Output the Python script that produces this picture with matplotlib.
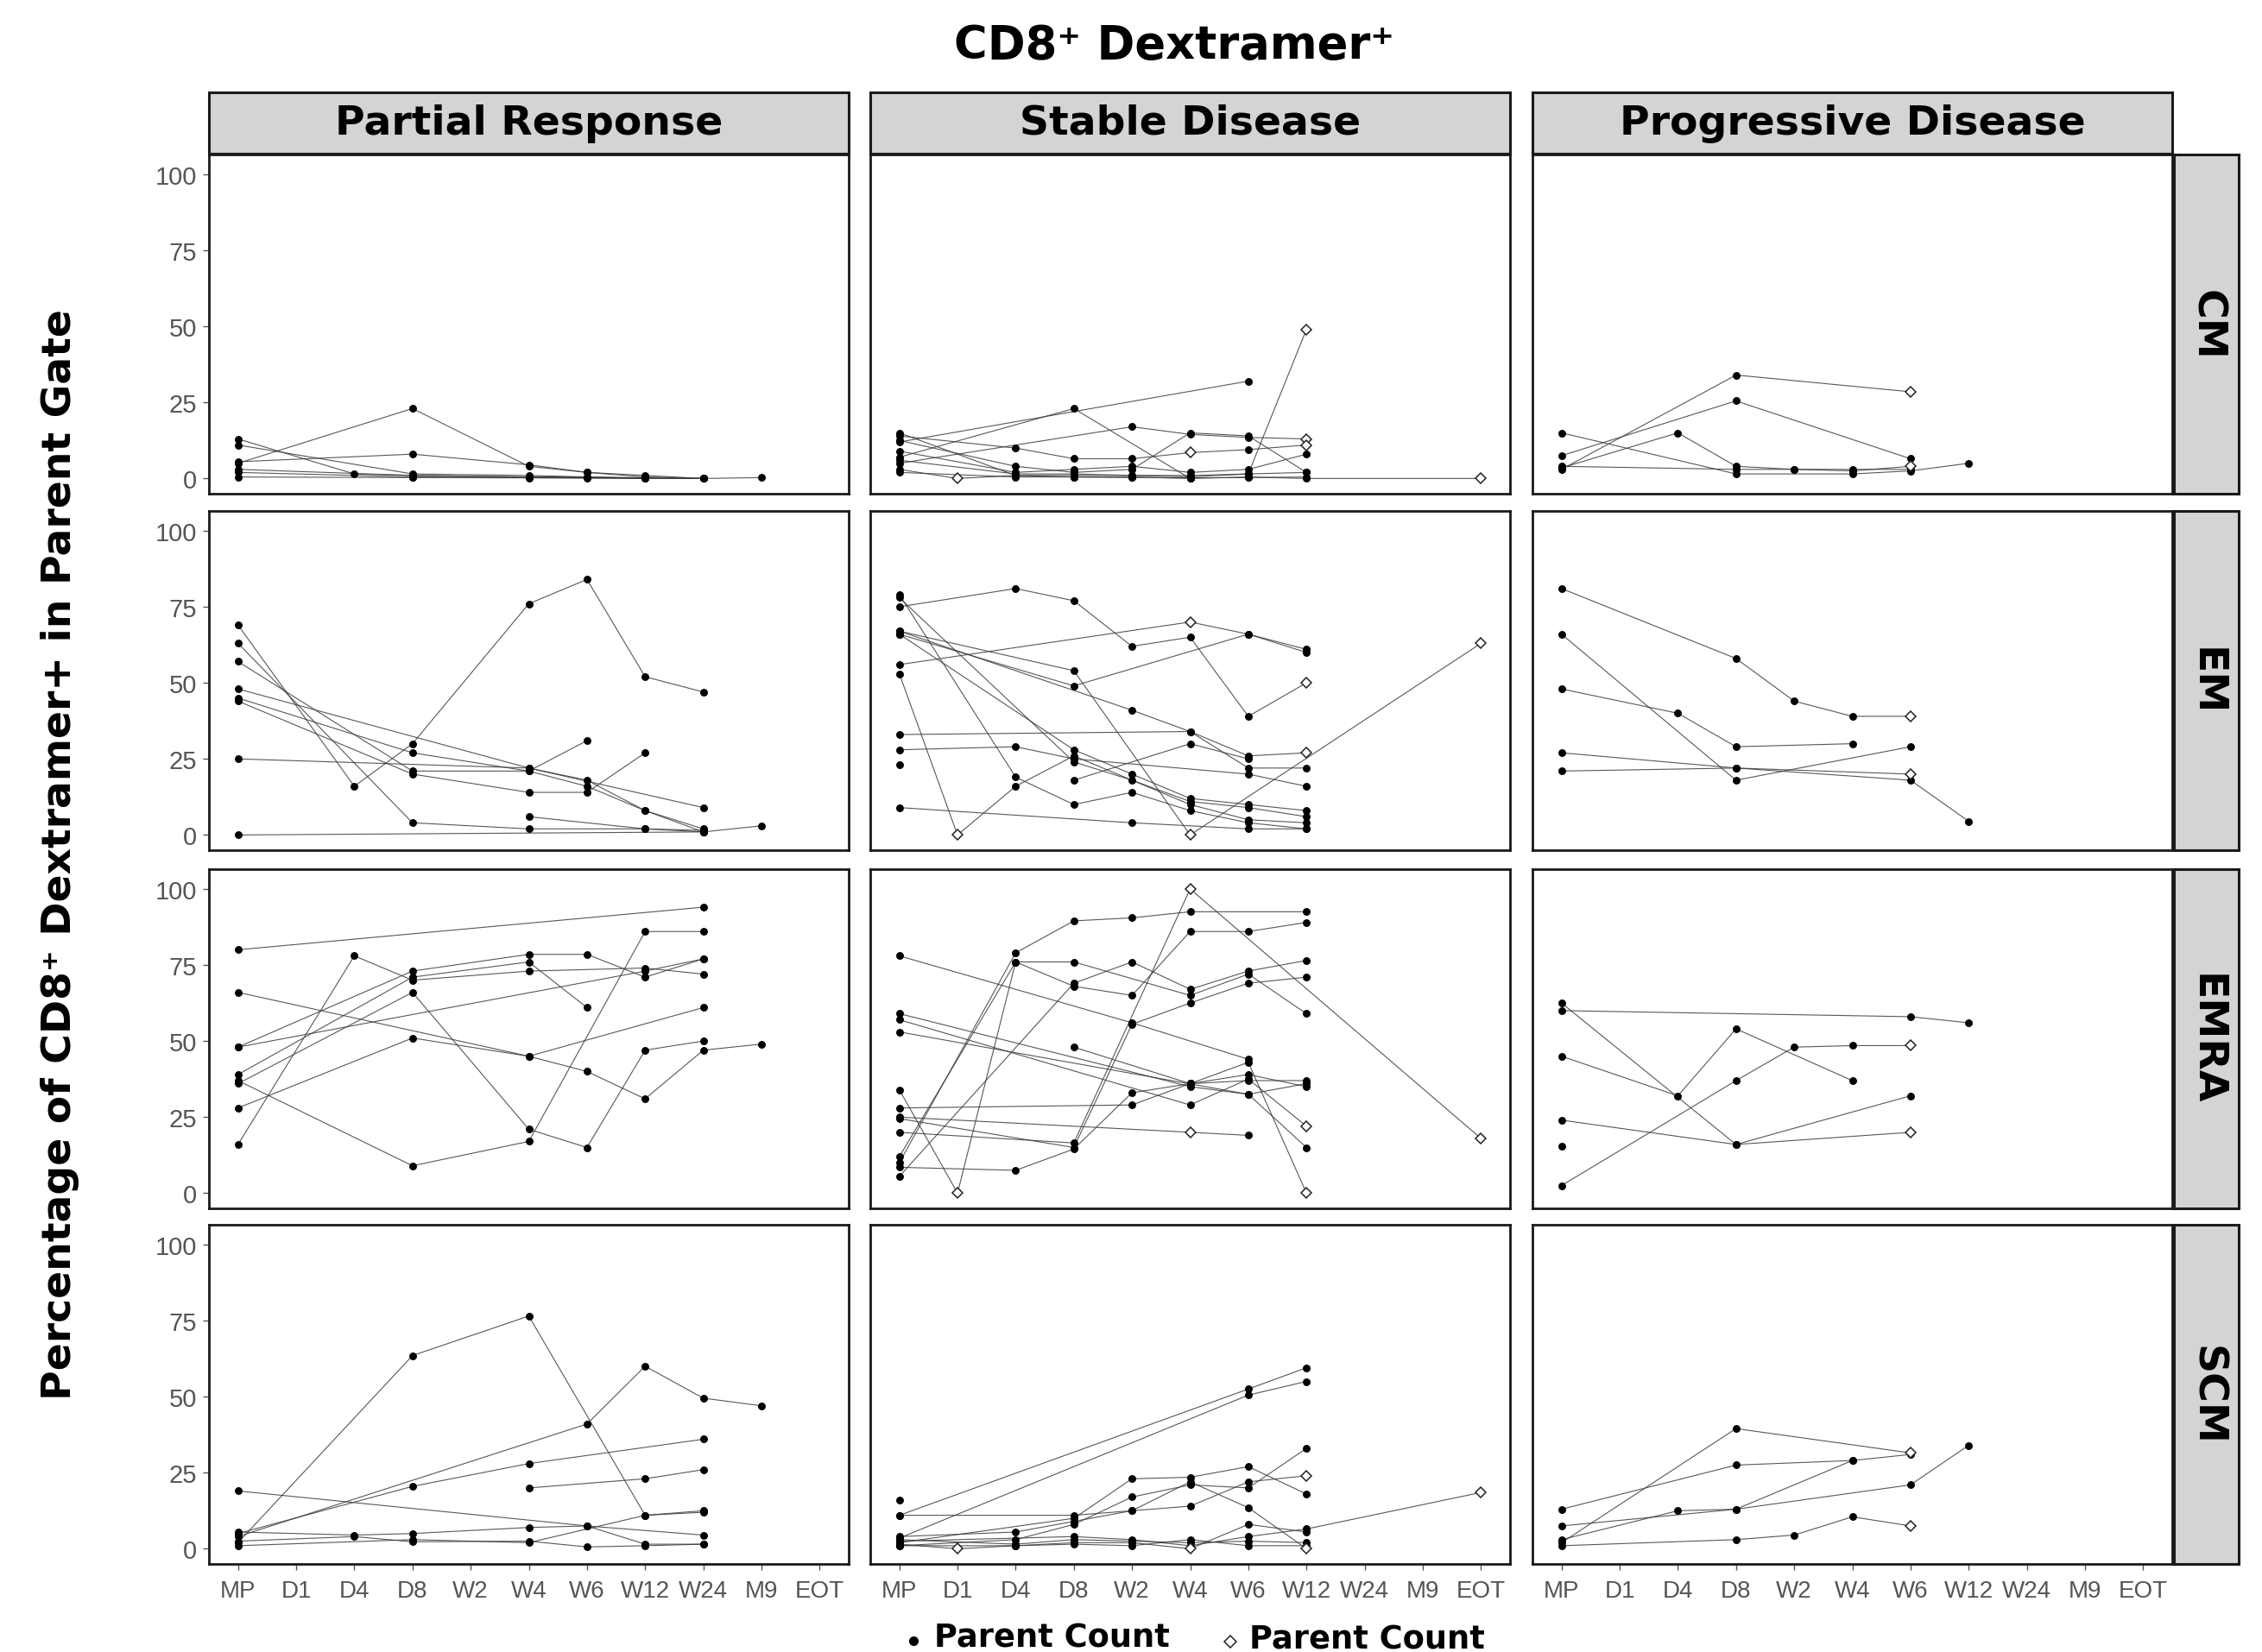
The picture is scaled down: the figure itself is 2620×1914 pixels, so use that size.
import matplotlib
matplotlib.use('Agg')
import matplotlib.pyplot as plt
from matplotlib.lines import Line2D
from matplotlib.patches import Rectangle

TIMEPOINTS = ["MP", "D1", "D4", "D8", "W2", "W4", "W6", "W12", "W24", "M9", "EOT"]
RESPONSES = ["Partial Response", "Stable Disease", "Progressive Disease"]
SUBSETS = ["CM", "EM", "EMRA", "SCM"]
Y_TICKS = [0, 25, 50, 75, 100]

# each series: list of (timepoint, percentage[, "d" = open diamond / low parent count])
PR_CM = [
    [("MP", 5), ("D8", 23), ("W4", 4), ("W6", 2), ("W12", 1), ("W24", 0)],
    [("MP", 13), ("D4", 1.5), ("D8", 1), ("W4", 0.5), ("W6", 0.5), ("W24", 0)],
    [("MP", 11), ("D8", 1.5), ("W4", 1), ("W6", 0.5), ("W12", 0)],
    [("MP", 5.5), ("D8", 8), ("W4", 4.5), ("W6", 2), ("W12", 0.5), ("W24", 0), ("M9", 0.3)],
    [("MP", 3), ("D8", 1), ("W4", 0.5), ("W6", 0.3), ("W12", 0.2)],
    [("MP", 2), ("D8", 0.5), ("W4", 0.3), ("W24", 0)],
    [("MP", 0.5), ("D8", 0.3), ("W4", 0.2), ("W6", 0.1), ("W12", 0), ("W24", 0)],
]
SD_CM = [
    [("MP", 12), ("W6", 32)],
    [("MP", 7), ("D8", 23), ("W4", 0)],
    [("MP", 5), ("W2", 17), ("W4", 14.5), ("W6", 13.5), ("W12", 13, "d")],
    [("MP", 14), ("D4", 10), ("D8", 6.5), ("W2", 6.5), ("W4", 8.5, "d"), ("W6", 9.5), ("W12", 11, "d")],
    [("MP", 3), ("D1", 0, "d"), ("D4", 1), ("D8", 1), ("W2", 1), ("W4", 0.5), ("W6", 1.5), ("W12", 49, "d")],
    [("MP", 15), ("D4", 1), ("D8", 0.5), ("W2", 0.5), ("W4", 0), ("W6", 0.5), ("W12", 0), ("EOT", 0, "d")],
    [("MP", 9), ("D4", 2), ("D8", 3), ("W2", 4), ("W4", 2), ("W6", 3), ("W12", 8)],
    [("MP", 12.5), ("D4", 4), ("D8", 2), ("W2", 3), ("W4", 15), ("W6", 14), ("W12", 2)],
    [("MP", 6), ("D4", 1.5), ("D8", 1.5), ("W2", 1), ("W4", 1), ("W6", 1.5), ("W12", 2)],
    [("MP", 2), ("D4", 0.5), ("D8", 0.5), ("W2", 0.3), ("W4", 0.2), ("W6", 0.3), ("W12", 0.5)],
]
PD_CM = [
    [("MP", 3), ("D8", 34), ("W6", 28.5, "d")],
    [("MP", 7.5), ("D8", 25.5), ("W6", 6.5)],
    [("MP", 3.5), ("D4", 15), ("D8", 4), ("W2", 3), ("W4", 2.5), ("W6", 4, "d")],
    [("MP", 15), ("D8", 1.5), ("W4", 1.5), ("W6", 2.5), ("W12", 5)],
    [("MP", 4), ("D8", 3), ("W2", 3), ("W4", 3), ("W6", 3)],
]
PR_EM = [
    [("MP", 69), ("D4", 16), ("D8", 30), ("W4", 76), ("W6", 84), ("W12", 52), ("W24", 47)],
    [("MP", 63), ("D8", 4), ("W4", 2), ("W12", 2), ("W24", 1)],
    [("MP", 57), ("D8", 21), ("W4", 21), ("W6", 16), ("W12", 8), ("W24", 2)],
    [("MP", 48), ("W4", 22), ("W24", 9)],
    [("MP", 45), ("D8", 27), ("W4", 21), ("W6", 31)],
    [("MP", 44), ("D8", 20), ("W4", 14), ("W6", 14), ("W12", 27)],
    [("MP", 25), ("W4", 22), ("W6", 18), ("W12", 8), ("W24", 1)],
    [("MP", 0), ("W24", 1), ("M9", 3)],
    [("W4", 6), ("W12", 2), ("W24", 1.5)],
]
SD_EM = [
    [("MP", 75), ("D4", 81), ("D8", 77), ("W2", 62), ("W4", 65), ("W6", 39), ("W12", 50, "d")],
    [("MP", 56), ("W4", 70, "d"), ("W6", 66), ("W12", 61)],
    [("MP", 67), ("D8", 54), ("W4", 0, "d"), ("EOT", 63, "d")],
    [("MP", 66), ("D8", 49), ("W6", 66), ("W12", 60)],
    [("MP", 67), ("W2", 41), ("W4", 34), ("W6", 26), ("W12", 27, "d")],
    [("MP", 66), ("D8", 28), ("W2", 20), ("W4", 12), ("W6", 10), ("W12", 8)],
    [("MP", 53), ("D1", 0, "d"), ("D4", 16), ("D8", 26), ("W4", 10), ("W6", 5), ("W12", 4)],
    [("MP", 79), ("D4", 19), ("D8", 10), ("W2", 14), ("W4", 8), ("W6", 4), ("W12", 2)],
    [("MP", 78), ("D8", 24), ("W2", 18), ("W4", 11), ("W6", 9), ("W12", 6)],
    [("MP", 33), ("W4", 34), ("W6", 22), ("W12", 22)],
    [("MP", 28), ("D4", 29), ("D8", 25), ("W6", 20), ("W12", 16)],
    [("MP", 23)],
    [("MP", 9), ("W2", 4), ("W6", 2), ("W12", 2)],
    [("D8", 18), ("W4", 30), ("W6", 25)],
]
PD_EM = [
    [("MP", 81), ("D8", 58), ("W2", 44), ("W4", 39), ("W6", 39, "d")],
    [("MP", 66), ("D8", 18), ("W6", 29)],
    [("MP", 48), ("D4", 40), ("D8", 29), ("W4", 30)],
    [("MP", 27), ("D8", 22), ("W6", 18), ("W12", 4.5)],
    [("MP", 21), ("D8", 22), ("W6", 20, "d")],
]
PR_EMRA = [
    [("MP", 80), ("W24", 94)],
    [("MP", 16), ("D4", 78), ("D8", 70), ("W4", 73), ("W12", 74), ("W24", 72)],
    [("MP", 48), ("D8", 73), ("W4", 78.5), ("W6", 78.5), ("W12", 71), ("W24", 77)],
    [("MP", 39), ("D8", 71), ("W4", 76), ("W6", 61)],
    [("MP", 48), ("W12", 73), ("W24", 77)],
    [("MP", 37), ("D8", 9), ("W4", 17), ("W12", 86), ("W24", 86)],
    [("MP", 36), ("D8", 66), ("W4", 21), ("W6", 15), ("W12", 47), ("W24", 50)],
    [("MP", 28), ("D8", 51), ("W4", 45), ("W24", 61)],
    [("MP", 66), ("W4", 45), ("W6", 40), ("W12", 31), ("W24", 47), ("M9", 49)],
]
SD_EMRA = [
    [("MP", 78), ("W2", 56), ("W6", 44)],
    [("MP", 10), ("D4", 79), ("D8", 89.5), ("W2", 90.5), ("W4", 92.5), ("W12", 92.5)],
    [("MP", 12), ("D4", 76), ("D8", 68), ("W2", 65), ("W4", 86), ("W6", 86), ("W12", 89)],
    [("MP", 34), ("D1", 0, "d"), ("D4", 76), ("D8", 76), ("W4", 65), ("W6", 72), ("W12", 59)],
    [("MP", 8.5), ("D4", 7.5), ("D8", 14.5), ("W2", 33), ("W4", 36), ("W6", 39), ("W12", 35)],
    [("MP", 25), ("W4", 20, "d"), ("W6", 19)],
    [("MP", 28), ("W2", 29), ("W4", 36), ("W6", 37), ("W12", 37)],
    [("MP", 20), ("D8", 16.5), ("W4", 100, "d"), ("EOT", 18, "d")],
    [("MP", 5.5), ("D8", 69), ("W2", 76), ("W4", 67), ("W6", 73), ("W12", 76.5)],
    [("MP", 59), ("W4", 35), ("W6", 32.5), ("W12", 36)],
    [("MP", 53), ("W6", 32.5), ("W12", 15)],
    [("MP", 57), ("W4", 29), ("W6", 37.5), ("W12", 22, "d")],
    [("D8", 48), ("W4", 36), ("W6", 43), ("W12", 0, "d")],
    [("MP", 24.5), ("D8", 15), ("W2", 55.5), ("W4", 62.5), ("W6", 69), ("W12", 71)],
]
PD_EMRA = [
    [("MP", 60), ("W6", 58), ("W12", 56)],
    [("MP", 62.5), ("D8", 16), ("W6", 32)],
    [("MP", 45), ("D4", 32), ("D8", 54), ("W4", 37)],
    [("MP", 24), ("D8", 16), ("W6", 20, "d")],
    [("MP", 15.5)],
    [("MP", 2.5), ("D8", 37), ("W2", 48), ("W4", 48.5), ("W6", 48.5, "d")],
]
PR_SCM = [
    [("MP", 2), ("D8", 63.5), ("W4", 76.5), ("W12", 11), ("W24", 12)],
    [("MP", 4), ("W6", 41), ("W12", 60), ("W24", 49.5), ("M9", 47)],
    [("MP", 5), ("D8", 20.5), ("W4", 28), ("W24", 36)],
    [("W4", 20), ("W12", 23), ("W24", 26)],
    [("MP", 19), ("W6", 7.5), ("W24", 4.5)],
    [("MP", 5.5), ("D4", 4.5), ("D8", 5), ("W4", 7), ("W6", 7.5), ("W12", 1.5), ("W24", 1.5)],
    [("MP", 2.5), ("D4", 4), ("D8", 2.3), ("W4", 2.5), ("W6", 0.6), ("W12", 1), ("W24", 1.5)],
    [("MP", 1), ("D8", 3), ("W4", 2), ("W12", 11), ("W24", 12.5)],
]
SD_SCM = [
    [("MP", 11), ("W6", 52.5), ("W12", 59.5)],
    [("MP", 3.5), ("W6", 50.5), ("W12", 55)],
    [("MP", 11), ("D8", 11), ("W2", 12.5), ("W4", 14), ("W6", 22), ("W12", 24, "d")],
    [("MP", 2), ("D8", 10), ("W2", 23), ("W4", 23.5), ("W6", 27), ("W12", 18)],
    [("MP", 1), ("D4", 3), ("D8", 8), ("W2", 17), ("W4", 21), ("W6", 20), ("W12", 33)],
    [("MP", 4), ("D4", 5.5), ("D8", 9), ("W2", 12.5), ("W4", 22), ("W6", 13.5), ("W12", 0, "d")],
    [("MP", 2.5), ("D8", 4), ("W2", 3), ("W4", 1), ("W6", 4), ("W12", 6.5), ("EOT", 18.5, "d")],
    [("MP", 16)],
    [("MP", 1.5), ("D1", 0, "d"), ("D4", 1), ("D8", 2), ("W2", 2), ("W4", 0, "d"), ("W6", 8), ("W12", 5.5)],
    [("MP", 3), ("D4", 1.5), ("D8", 3), ("W2", 2.5), ("W4", 2), ("W6", 2.5), ("W12", 2)],
    [("MP", 1), ("D4", 1), ("D8", 1.5), ("W2", 1), ("W4", 3), ("W6", 1), ("W12", 1)],
]
PD_SCM = [
    [("MP", 2), ("D8", 39.5), ("W6", 31.5, "d")],
    [("MP", 13), ("D8", 27.5), ("W4", 29), ("W6", 31)],
    [("MP", 3), ("D4", 12.5), ("D8", 13), ("W4", 29)],
    [("MP", 7.5), ("D8", 13), ("W6", 21), ("W12", 34)],
    [("MP", 1), ("D8", 3), ("W2", 4.5), ("W4", 10.5), ("W6", 7.5, "d")],
]

PANELS = [
    [PR_CM, SD_CM, PD_CM],
    [PR_EM, SD_EM, PD_EM],
    [PR_EMRA, SD_EMRA, PD_EMRA],
    [PR_SCM, SD_SCM, PD_SCM],
]

W, H = 2620, 1915
fig = plt.figure(figsize=(W / 100, H / 100), dpi=100)

col_left = [242, 1008, 1775]
col_w = 741
row_top = [180, 593, 1008, 1420]
row_h = 393
strip_top_y0, strip_top_y1 = 108, 179
strip_right_x0, strip_right_x1 = 2518, 2593

FRAME = '#1a1a1a'
STRIP_FILL = '#d4d4d4'
TICK_GREY = '#555555'
LINE_COL = '#3a3a3a'

idx = {t: i for i, t in enumerate(TIMEPOINTS)}

for r in range(4):
    for c in range(3):
        ax = fig.add_axes([col_left[c] / W, 1 - (row_top[r] + row_h) / H, col_w / W, row_h / H])
        ax.set_xlim(-0.5, len(TIMEPOINTS) - 0.5)
        ax.set_ylim(-5, 106.5)
        for s in PANELS[r][c]:
            xs = [idx[p[0]] for p in s]
            ys = [p[1] for p in s]
            ax.plot(xs, ys, color=LINE_COL, lw=0.8, alpha=0.85, zorder=2)
            fx = [idx[p[0]] for p in s if len(p) == 2]
            fy = [p[1] for p in s if len(p) == 2]
            ax.plot(fx, fy, ls='none', marker='o', ms=5.4, color='black', zorder=3)
            dx = [idx[p[0]] for p in s if len(p) == 3]
            dy = [p[1] for p in s if len(p) == 3]
            ax.plot(dx, dy, ls='none', marker='D', ms=6.5, mfc='white', mec='#222222',
                    mew=1.1, zorder=4)
        ax.set_xticks(range(len(TIMEPOINTS)))
        ax.set_yticks(Y_TICKS)
        ax.tick_params(axis='both', colors=TICK_GREY, length=5, width=1,
                       labelcolor=TICK_GREY)
        if r == 3:
            ax.set_xticklabels(TIMEPOINTS, family='Liberation Sans', fontsize=20)
            ax.tick_params(axis='x', pad=8)
        else:
            ax.set_xticklabels([])
            ax.tick_params(axis='x', length=0)
        if c == 0:
            ax.set_yticklabels([str(v) for v in Y_TICKS], family='Liberation Sans', fontsize=21)
            ax.tick_params(axis='y', pad=5)
        else:
            ax.set_yticklabels([])
            ax.tick_params(axis='y', length=0)
        for sp in ax.spines.values():
            sp.set_color(FRAME)
            sp.set_linewidth(2.0)

# top strips
for c in range(3):
    rect = Rectangle((col_left[c] / W, 1 - strip_top_y1 / H), col_w / W,
                     (strip_top_y1 - strip_top_y0) / H, transform=fig.transFigure,
                     facecolor=STRIP_FILL, edgecolor=FRAME, lw=2.2)
    fig.add_artist(rect)
    fig.text((col_left[c] + col_w / 2) / W, 1 - (strip_top_y0 + strip_top_y1) / 2 / H,
             RESPONSES[c], ha='center', va='center', fontsize=34, fontweight='bold',
             family='DejaVu Sans', color='black')

# right strips
for r in range(4):
    rect = Rectangle((strip_right_x0 / W, 1 - (row_top[r] + row_h) / H),
                     (strip_right_x1 - strip_right_x0) / W, row_h / H,
                     transform=fig.transFigure, facecolor=STRIP_FILL, edgecolor=FRAME, lw=2.2)
    fig.add_artist(rect)
    fig.text((strip_right_x0 + strip_right_x1) / 2 / W, 1 - (row_top[r] + row_h / 2) / H,
             SUBSETS[r], ha='center', va='center', rotation=270, fontsize=34,
             fontweight='bold', family='DejaVu Sans', color='black')

# title and axis label
fig.text(1360 / W, 1 - 53 / H, "CD8\u207a Dextramer\u207a",
         ha='center', va='center', fontsize=38, fontweight='bold', family='DejaVu Sans')
fig.text(70 / W, 1 - 990 / H, "Percentage of CD8\u207a Dextramer+ in Parent Gate",
         ha='center', va='center', rotation=90, fontsize=34, fontweight='bold',
         family='DejaVu Sans')

# legend
fig.add_artist(Line2D([1058 / W], [1 - 1902 / H], marker='o', ms=7, color='black',
                      ls='none', transform=fig.transFigure))
fig.text(1082 / W, 1 - 1898 / H, "Parent Count", ha='left', va='center', fontsize=26.5,
         fontweight='bold', family='DejaVu Sans')
fig.add_artist(Line2D([1425 / W], [1 - 1903 / H], marker='D', ms=7, mfc='white',
                      mec='#222222', mew=1.1, ls='none', transform=fig.transFigure))
fig.text(1447 / W, 1 - 1900 / H, "Parent Count", ha='left', va='center', fontsize=26.5,
         fontweight='bold', family='DejaVu Sans')

fig.savefig('out.png', dpi=100, facecolor='white')
